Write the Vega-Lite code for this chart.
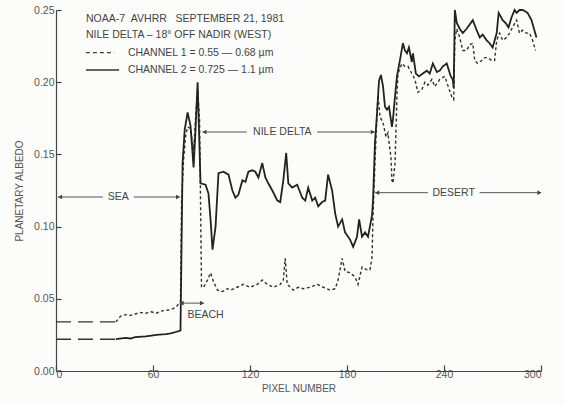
{
  "$schema": "https://vega.github.io/schema/vega-lite/v6.json",
  "width": 485,
  "height": 361,
  "autosize": {"type": "none"},
  "padding": {"left": 56, "top": 10, "right": 24, "bottom": 34},
  "background": "#fcfcfa",
  "config": {
    "font": "Liberation Sans",
    "view": {"stroke": null},
    "axis": {
      "domainColor": "#444",
      "tickColor": "#444",
      "labelColor": "#555",
      "titleColor": "#555",
      "labelFont": "Liberation Sans",
      "titleFont": "Liberation Sans",
      "labelFontSize": 10.5,
      "titleFontSize": 10,
      "titleFontWeight": "normal",
      "grid": false
    }
  },
  "datasets": {
    "albedo": [
      {"channel": "1", "part": "gap", "pixel": 0, "albedo": 0.034},
      {"channel": "1", "part": "gap", "pixel": 37, "albedo": 0.034},
      {"channel": "2", "part": "gap", "pixel": 0, "albedo": 0.022},
      {"channel": "2", "part": "gap", "pixel": 37, "albedo": 0.022},

      {"channel": "1", "part": "scan", "pixel": 37, "albedo": 0.034},
      {"channel": "1", "part": "scan", "pixel": 40, "albedo": 0.038},
      {"channel": "1", "part": "scan", "pixel": 43, "albedo": 0.039},
      {"channel": "1", "part": "scan", "pixel": 46, "albedo": 0.0385},
      {"channel": "1", "part": "scan", "pixel": 49, "albedo": 0.0395},
      {"channel": "1", "part": "scan", "pixel": 52, "albedo": 0.0405},
      {"channel": "1", "part": "scan", "pixel": 55.5, "albedo": 0.040},
      {"channel": "1", "part": "scan", "pixel": 59, "albedo": 0.041},
      {"channel": "1", "part": "scan", "pixel": 62, "albedo": 0.040},
      {"channel": "1", "part": "scan", "pixel": 65, "albedo": 0.0415},
      {"channel": "1", "part": "scan", "pixel": 68, "albedo": 0.042},
      {"channel": "1", "part": "scan", "pixel": 71, "albedo": 0.0425},
      {"channel": "1", "part": "scan", "pixel": 74, "albedo": 0.044},
      {"channel": "1", "part": "scan", "pixel": 77, "albedo": 0.048},
      {"channel": "1", "part": "scan", "pixel": 77.7, "albedo": 0.118},
      {"channel": "1", "part": "scan", "pixel": 78.9, "albedo": 0.146},
      {"channel": "1", "part": "scan", "pixel": 80.2, "albedo": 0.163},
      {"channel": "1", "part": "scan", "pixel": 81.4, "albedo": 0.169},
      {"channel": "1", "part": "scan", "pixel": 83.2, "albedo": 0.168},
      {"channel": "1", "part": "scan", "pixel": 85.1, "albedo": 0.153},
      {"channel": "1", "part": "scan", "pixel": 86.3, "albedo": 0.174},
      {"channel": "1", "part": "scan", "pixel": 87.6, "albedo": 0.195},
      {"channel": "1", "part": "scan", "pixel": 88.8, "albedo": 0.174},
      {"channel": "1", "part": "scan", "pixel": 89.4, "albedo": 0.118},
      {"channel": "1", "part": "scan", "pixel": 90, "albedo": 0.058},
      {"channel": "1", "part": "scan", "pixel": 91.3, "albedo": 0.058},
      {"channel": "1", "part": "scan", "pixel": 93.7, "albedo": 0.063},
      {"channel": "1", "part": "scan", "pixel": 95.6, "albedo": 0.068},
      {"channel": "1", "part": "scan", "pixel": 97.4, "albedo": 0.062},
      {"channel": "1", "part": "scan", "pixel": 99.9, "albedo": 0.056},
      {"channel": "1", "part": "scan", "pixel": 103, "albedo": 0.055},
      {"channel": "1", "part": "scan", "pixel": 106, "albedo": 0.057},
      {"channel": "1", "part": "scan", "pixel": 108, "albedo": 0.056},
      {"channel": "1", "part": "scan", "pixel": 112, "albedo": 0.058},
      {"channel": "1", "part": "scan", "pixel": 116, "albedo": 0.060},
      {"channel": "1", "part": "scan", "pixel": 120, "albedo": 0.058},
      {"channel": "1", "part": "scan", "pixel": 124.6, "albedo": 0.060},
      {"channel": "1", "part": "scan", "pixel": 127.6, "albedo": 0.063},
      {"channel": "1", "part": "scan", "pixel": 130.7, "albedo": 0.060},
      {"channel": "1", "part": "scan", "pixel": 134.4, "albedo": 0.058},
      {"channel": "1", "part": "scan", "pixel": 138.7, "albedo": 0.060},
      {"channel": "1", "part": "scan", "pixel": 140.6, "albedo": 0.063},
      {"channel": "1", "part": "scan", "pixel": 141.8, "albedo": 0.078},
      {"channel": "1", "part": "scan", "pixel": 143, "albedo": 0.060},
      {"channel": "1", "part": "scan", "pixel": 146.8, "albedo": 0.056},
      {"channel": "1", "part": "scan", "pixel": 149.8, "albedo": 0.058},
      {"channel": "1", "part": "scan", "pixel": 152.9, "albedo": 0.057},
      {"channel": "1", "part": "scan", "pixel": 157.2, "albedo": 0.058},
      {"channel": "1", "part": "scan", "pixel": 161.6, "albedo": 0.060},
      {"channel": "1", "part": "scan", "pixel": 165.3, "albedo": 0.058},
      {"channel": "1", "part": "scan", "pixel": 169.6, "albedo": 0.056},
      {"channel": "1", "part": "scan", "pixel": 172.7, "albedo": 0.057},
      {"channel": "1", "part": "scan", "pixel": 174.5, "albedo": 0.063},
      {"channel": "1", "part": "scan", "pixel": 177, "albedo": 0.078},
      {"channel": "1", "part": "scan", "pixel": 178.8, "albedo": 0.069},
      {"channel": "1", "part": "scan", "pixel": 181.9, "albedo": 0.068},
      {"channel": "1", "part": "scan", "pixel": 185, "albedo": 0.065},
      {"channel": "1", "part": "scan", "pixel": 186.8, "albedo": 0.060},
      {"channel": "1", "part": "scan", "pixel": 189.3, "albedo": 0.072},
      {"channel": "1", "part": "scan", "pixel": 192.4, "albedo": 0.070},
      {"channel": "1", "part": "scan", "pixel": 194.2, "albedo": 0.070},
      {"channel": "1", "part": "scan", "pixel": 195.5, "albedo": 0.079},
      {"channel": "1", "part": "scan", "pixel": 196.1, "albedo": 0.107},
      {"channel": "1", "part": "scan", "pixel": 197.3, "albedo": 0.144},
      {"channel": "1", "part": "scan", "pixel": 198.6, "albedo": 0.179},
      {"channel": "1", "part": "scan", "pixel": 199.2, "albedo": 0.191},
      {"channel": "1", "part": "scan", "pixel": 200.4, "albedo": 0.176},
      {"channel": "1", "part": "scan", "pixel": 202.3, "albedo": 0.172},
      {"channel": "1", "part": "scan", "pixel": 204.1, "albedo": 0.162},
      {"channel": "1", "part": "scan", "pixel": 205.3, "albedo": 0.165},
      {"channel": "1", "part": "scan", "pixel": 207.2, "albedo": 0.148},
      {"channel": "1", "part": "scan", "pixel": 207.8, "albedo": 0.132},
      {"channel": "1", "part": "scan", "pixel": 208.4, "albedo": 0.130},
      {"channel": "1", "part": "scan", "pixel": 209.7, "albedo": 0.144},
      {"channel": "1", "part": "scan", "pixel": 210.9, "albedo": 0.190},
      {"channel": "1", "part": "scan", "pixel": 211.5, "albedo": 0.206},
      {"channel": "1", "part": "scan", "pixel": 214, "albedo": 0.213},
      {"channel": "1", "part": "scan", "pixel": 215.8, "albedo": 0.211},
      {"channel": "1", "part": "scan", "pixel": 217.7, "albedo": 0.211},
      {"channel": "1", "part": "scan", "pixel": 220.1, "albedo": 0.206},
      {"channel": "1", "part": "scan", "pixel": 222, "albedo": 0.202},
      {"channel": "1", "part": "scan", "pixel": 223.8, "albedo": 0.193},
      {"channel": "1", "part": "scan", "pixel": 226.3, "albedo": 0.195},
      {"channel": "1", "part": "scan", "pixel": 228.2, "albedo": 0.200},
      {"channel": "1", "part": "scan", "pixel": 230, "albedo": 0.198},
      {"channel": "1", "part": "scan", "pixel": 232.5, "albedo": 0.202},
      {"channel": "1", "part": "scan", "pixel": 234.3, "albedo": 0.197},
      {"channel": "1", "part": "scan", "pixel": 237.4, "albedo": 0.202},
      {"channel": "1", "part": "scan", "pixel": 240.5, "albedo": 0.204},
      {"channel": "1", "part": "scan", "pixel": 242.3, "albedo": 0.198},
      {"channel": "1", "part": "scan", "pixel": 244.8, "albedo": 0.190},
      {"channel": "1", "part": "scan", "pixel": 246, "albedo": 0.188},
      {"channel": "1", "part": "scan", "pixel": 246.7, "albedo": 0.229},
      {"channel": "1", "part": "scan", "pixel": 247.9, "albedo": 0.237},
      {"channel": "1", "part": "scan", "pixel": 249.7, "albedo": 0.231},
      {"channel": "1", "part": "scan", "pixel": 251.6, "albedo": 0.222},
      {"channel": "1", "part": "scan", "pixel": 254, "albedo": 0.222},
      {"channel": "1", "part": "scan", "pixel": 255.9, "albedo": 0.226},
      {"channel": "1", "part": "scan", "pixel": 257.8, "albedo": 0.227},
      {"channel": "1", "part": "scan", "pixel": 259, "albedo": 0.215},
      {"channel": "1", "part": "scan", "pixel": 260.8, "albedo": 0.213},
      {"channel": "1", "part": "scan", "pixel": 263.3, "albedo": 0.215},
      {"channel": "1", "part": "scan", "pixel": 265.2, "albedo": 0.217},
      {"channel": "1", "part": "scan", "pixel": 267, "albedo": 0.217},
      {"channel": "1", "part": "scan", "pixel": 269.5, "albedo": 0.215},
      {"channel": "1", "part": "scan", "pixel": 271.3, "albedo": 0.215},
      {"channel": "1", "part": "scan", "pixel": 272.6, "albedo": 0.229},
      {"channel": "1", "part": "scan", "pixel": 274.4, "albedo": 0.234},
      {"channel": "1", "part": "scan", "pixel": 276.3, "albedo": 0.229},
      {"channel": "1", "part": "scan", "pixel": 278.7, "albedo": 0.231},
      {"channel": "1", "part": "scan", "pixel": 280.6, "albedo": 0.234},
      {"channel": "1", "part": "scan", "pixel": 282.4, "albedo": 0.238},
      {"channel": "1", "part": "scan", "pixel": 284.9, "albedo": 0.243},
      {"channel": "1", "part": "scan", "pixel": 286.7, "albedo": 0.234},
      {"channel": "1", "part": "scan", "pixel": 288.6, "albedo": 0.236},
      {"channel": "1", "part": "scan", "pixel": 291, "albedo": 0.234},
      {"channel": "1", "part": "scan", "pixel": 292.9, "albedo": 0.234},
      {"channel": "1", "part": "scan", "pixel": 294.8, "albedo": 0.229},
      {"channel": "1", "part": "scan", "pixel": 296.6, "albedo": 0.222},

      {"channel": "2", "part": "scan", "pixel": 37, "albedo": 0.022},
      {"channel": "2", "part": "scan", "pixel": 43, "albedo": 0.023},
      {"channel": "2", "part": "scan", "pixel": 46, "albedo": 0.0225},
      {"channel": "2", "part": "scan", "pixel": 49, "albedo": 0.0235},
      {"channel": "2", "part": "scan", "pixel": 55.5, "albedo": 0.024},
      {"channel": "2", "part": "scan", "pixel": 59, "albedo": 0.0245},
      {"channel": "2", "part": "scan", "pixel": 62, "albedo": 0.025},
      {"channel": "2", "part": "scan", "pixel": 68, "albedo": 0.0256},
      {"channel": "2", "part": "scan", "pixel": 71, "albedo": 0.026},
      {"channel": "2", "part": "scan", "pixel": 74, "albedo": 0.027},
      {"channel": "2", "part": "scan", "pixel": 77, "albedo": 0.028},
      {"channel": "2", "part": "scan", "pixel": 78.3, "albedo": 0.144},
      {"channel": "2", "part": "scan", "pixel": 79.6, "albedo": 0.167},
      {"channel": "2", "part": "scan", "pixel": 81.4, "albedo": 0.179},
      {"channel": "2", "part": "scan", "pixel": 83.2, "albedo": 0.170},
      {"channel": "2", "part": "scan", "pixel": 85.1, "albedo": 0.141},
      {"channel": "2", "part": "scan", "pixel": 86.3, "albedo": 0.167},
      {"channel": "2", "part": "scan", "pixel": 87.6, "albedo": 0.200},
      {"channel": "2", "part": "scan", "pixel": 89.4, "albedo": 0.130},
      {"channel": "2", "part": "scan", "pixel": 92.5, "albedo": 0.129},
      {"channel": "2", "part": "scan", "pixel": 94.3, "albedo": 0.123},
      {"channel": "2", "part": "scan", "pixel": 95.6, "albedo": 0.105},
      {"channel": "2", "part": "scan", "pixel": 96.8, "albedo": 0.084},
      {"channel": "2", "part": "scan", "pixel": 98.7, "albedo": 0.100},
      {"channel": "2", "part": "scan", "pixel": 100.5, "albedo": 0.137},
      {"channel": "2", "part": "scan", "pixel": 103.6, "albedo": 0.138},
      {"channel": "2", "part": "scan", "pixel": 106.7, "albedo": 0.136},
      {"channel": "2", "part": "scan", "pixel": 109.1, "albedo": 0.125},
      {"channel": "2", "part": "scan", "pixel": 111, "albedo": 0.120},
      {"channel": "2", "part": "scan", "pixel": 112.8, "albedo": 0.122},
      {"channel": "2", "part": "scan", "pixel": 115.3, "albedo": 0.132},
      {"channel": "2", "part": "scan", "pixel": 117.2, "albedo": 0.131},
      {"channel": "2", "part": "scan", "pixel": 119, "albedo": 0.138},
      {"channel": "2", "part": "scan", "pixel": 121.5, "albedo": 0.139},
      {"channel": "2", "part": "scan", "pixel": 123.3, "albedo": 0.138},
      {"channel": "2", "part": "scan", "pixel": 125.2, "albedo": 0.134},
      {"channel": "2", "part": "scan", "pixel": 127.6, "albedo": 0.144},
      {"channel": "2", "part": "scan", "pixel": 129.5, "albedo": 0.134},
      {"channel": "2", "part": "scan", "pixel": 131.3, "albedo": 0.130},
      {"channel": "2", "part": "scan", "pixel": 133.8, "albedo": 0.125},
      {"channel": "2", "part": "scan", "pixel": 136.9, "albedo": 0.118},
      {"channel": "2", "part": "scan", "pixel": 138.7, "albedo": 0.117},
      {"channel": "2", "part": "scan", "pixel": 140.6, "albedo": 0.132},
      {"channel": "2", "part": "scan", "pixel": 142.4, "albedo": 0.151},
      {"channel": "2", "part": "scan", "pixel": 143.7, "albedo": 0.130},
      {"channel": "2", "part": "scan", "pixel": 146.1, "albedo": 0.127},
      {"channel": "2", "part": "scan", "pixel": 149.2, "albedo": 0.129},
      {"channel": "2", "part": "scan", "pixel": 152.3, "albedo": 0.120},
      {"channel": "2", "part": "scan", "pixel": 154.2, "albedo": 0.118},
      {"channel": "2", "part": "scan", "pixel": 156, "albedo": 0.127},
      {"channel": "2", "part": "scan", "pixel": 158.5, "albedo": 0.118},
      {"channel": "2", "part": "scan", "pixel": 160.3, "albedo": 0.120},
      {"channel": "2", "part": "scan", "pixel": 162.2, "albedo": 0.114},
      {"channel": "2", "part": "scan", "pixel": 164.6, "albedo": 0.117},
      {"channel": "2", "part": "scan", "pixel": 166.5, "albedo": 0.118},
      {"channel": "2", "part": "scan", "pixel": 168.3, "albedo": 0.136},
      {"channel": "2", "part": "scan", "pixel": 170.8, "albedo": 0.125},
      {"channel": "2", "part": "scan", "pixel": 172.7, "albedo": 0.109},
      {"channel": "2", "part": "scan", "pixel": 174.5, "albedo": 0.100},
      {"channel": "2", "part": "scan", "pixel": 177, "albedo": 0.105},
      {"channel": "2", "part": "scan", "pixel": 178.8, "albedo": 0.096},
      {"channel": "2", "part": "scan", "pixel": 181.9, "albedo": 0.091},
      {"channel": "2", "part": "scan", "pixel": 183.8, "albedo": 0.086},
      {"channel": "2", "part": "scan", "pixel": 186.2, "albedo": 0.093},
      {"channel": "2", "part": "scan", "pixel": 187.5, "albedo": 0.105},
      {"channel": "2", "part": "scan", "pixel": 189.3, "albedo": 0.093},
      {"channel": "2", "part": "scan", "pixel": 191.2, "albedo": 0.096},
      {"channel": "2", "part": "scan", "pixel": 193, "albedo": 0.093},
      {"channel": "2", "part": "scan", "pixel": 195.5, "albedo": 0.108},
      {"channel": "2", "part": "scan", "pixel": 196.1, "albedo": 0.118},
      {"channel": "2", "part": "scan", "pixel": 197.3, "albedo": 0.158},
      {"channel": "2", "part": "scan", "pixel": 198.6, "albedo": 0.179},
      {"channel": "2", "part": "scan", "pixel": 199.8, "albedo": 0.201},
      {"channel": "2", "part": "scan", "pixel": 201, "albedo": 0.205},
      {"channel": "2", "part": "scan", "pixel": 202.3, "albedo": 0.197},
      {"channel": "2", "part": "scan", "pixel": 203.5, "albedo": 0.183},
      {"channel": "2", "part": "scan", "pixel": 204.7, "albedo": 0.181},
      {"channel": "2", "part": "scan", "pixel": 206, "albedo": 0.183},
      {"channel": "2", "part": "scan", "pixel": 207.8, "albedo": 0.169},
      {"channel": "2", "part": "scan", "pixel": 208.4, "albedo": 0.174},
      {"channel": "2", "part": "scan", "pixel": 209.7, "albedo": 0.190},
      {"channel": "2", "part": "scan", "pixel": 210.9, "albedo": 0.204},
      {"channel": "2", "part": "scan", "pixel": 212.7, "albedo": 0.215},
      {"channel": "2", "part": "scan", "pixel": 214.6, "albedo": 0.227},
      {"channel": "2", "part": "scan", "pixel": 215.8, "albedo": 0.222},
      {"channel": "2", "part": "scan", "pixel": 217.1, "albedo": 0.220},
      {"channel": "2", "part": "scan", "pixel": 218.3, "albedo": 0.224},
      {"channel": "2", "part": "scan", "pixel": 220.1, "albedo": 0.214},
      {"channel": "2", "part": "scan", "pixel": 220.8, "albedo": 0.220},
      {"channel": "2", "part": "scan", "pixel": 222.6, "albedo": 0.206},
      {"channel": "2", "part": "scan", "pixel": 224.5, "albedo": 0.204},
      {"channel": "2", "part": "scan", "pixel": 226.9, "albedo": 0.206},
      {"channel": "2", "part": "scan", "pixel": 229.4, "albedo": 0.208},
      {"channel": "2", "part": "scan", "pixel": 231.2, "albedo": 0.206},
      {"channel": "2", "part": "scan", "pixel": 233.1, "albedo": 0.213},
      {"channel": "2", "part": "scan", "pixel": 235.6, "albedo": 0.207},
      {"channel": "2", "part": "scan", "pixel": 237.4, "albedo": 0.208},
      {"channel": "2", "part": "scan", "pixel": 239.3, "albedo": 0.211},
      {"channel": "2", "part": "scan", "pixel": 241.7, "albedo": 0.213},
      {"channel": "2", "part": "scan", "pixel": 244.2, "albedo": 0.204},
      {"channel": "2", "part": "scan", "pixel": 245.4, "albedo": 0.202},
      {"channel": "2", "part": "scan", "pixel": 246, "albedo": 0.196},
      {"channel": "2", "part": "scan", "pixel": 246.7, "albedo": 0.250},
      {"channel": "2", "part": "scan", "pixel": 247.9, "albedo": 0.241},
      {"channel": "2", "part": "scan", "pixel": 249.7, "albedo": 0.237},
      {"channel": "2", "part": "scan", "pixel": 251.6, "albedo": 0.234},
      {"channel": "2", "part": "scan", "pixel": 254, "albedo": 0.237},
      {"channel": "2", "part": "scan", "pixel": 255.9, "albedo": 0.240},
      {"channel": "2", "part": "scan", "pixel": 257.8, "albedo": 0.243},
      {"channel": "2", "part": "scan", "pixel": 260.2, "albedo": 0.236},
      {"channel": "2", "part": "scan", "pixel": 262.1, "albedo": 0.231},
      {"channel": "2", "part": "scan", "pixel": 263.9, "albedo": 0.233},
      {"channel": "2", "part": "scan", "pixel": 266.4, "albedo": 0.229},
      {"channel": "2", "part": "scan", "pixel": 268.2, "albedo": 0.227},
      {"channel": "2", "part": "scan", "pixel": 270.1, "albedo": 0.224},
      {"channel": "2", "part": "scan", "pixel": 272.6, "albedo": 0.234},
      {"channel": "2", "part": "scan", "pixel": 273.8, "albedo": 0.248},
      {"channel": "2", "part": "scan", "pixel": 276.3, "albedo": 0.243},
      {"channel": "2", "part": "scan", "pixel": 278.1, "albedo": 0.241},
      {"channel": "2", "part": "scan", "pixel": 279.9, "albedo": 0.238},
      {"channel": "2", "part": "scan", "pixel": 281.8, "albedo": 0.245},
      {"channel": "2", "part": "scan", "pixel": 283.7, "albedo": 0.250},
      {"channel": "2", "part": "scan", "pixel": 284.9, "albedo": 0.248},
      {"channel": "2", "part": "scan", "pixel": 286.7, "albedo": 0.250},
      {"channel": "2", "part": "scan", "pixel": 288.6, "albedo": 0.250},
      {"channel": "2", "part": "scan", "pixel": 290.4, "albedo": 0.249},
      {"channel": "2", "part": "scan", "pixel": 291.7, "albedo": 0.248},
      {"channel": "2", "part": "scan", "pixel": 294.1, "albedo": 0.243},
      {"channel": "2", "part": "scan", "pixel": 295.4, "albedo": 0.238},
      {"channel": "2", "part": "scan", "pixel": 297.2, "albedo": 0.231}
    ],
    "key": [
      {"channel": "1", "pixel": 18.5, "albedo": 0.2205},
      {"channel": "1", "pixel": 36, "albedo": 0.2205},
      {"channel": "2", "pixel": 18.5, "albedo": 0.2085},
      {"channel": "2", "pixel": 39, "albedo": 0.2085}
    ],
    "notes": [
      {"text": "NOAA-7\u00a0\u00a0AVHRR\u00a0\u00a0\u00a0SEPTEMBER 21, 1981", "pixel": 18.5, "albedo": 0.2435, "align": "left"},
      {"text": "NILE DELTA – 18° OFF NADIR (WEST)", "pixel": 18.5, "albedo": 0.2325, "align": "left"},
      {"text": "CHANNEL 1 = 0.55 — 0.68 µm", "pixel": 44.5, "albedo": 0.2205, "align": "left"},
      {"text": "CHANNEL 2 = 0.725 — 1.1 µm", "pixel": 44.5, "albedo": 0.2085, "align": "left"},
      {"text": "SEA", "pixel": 38.5, "albedo": 0.1205, "align": "center"},
      {"text": "NILE DELTA", "pixel": 140, "albedo": 0.1655, "align": "center"},
      {"text": "DESERT", "pixel": 246, "albedo": 0.1235, "align": "center"},
      {"text": "BEACH", "pixel": 92.5, "albedo": 0.0385, "align": "center"}
    ],
    "spans": [
      {"region": "sea", "from": 1.2, "to": 29, "albedo": 0.1205},
      {"region": "sea", "from": 48, "to": 76.5, "albedo": 0.1205},
      {"region": "delta", "from": 90.6, "to": 118, "albedo": 0.1655},
      {"region": "delta", "from": 161.5, "to": 197, "albedo": 0.1655},
      {"region": "desert", "from": 197.5, "to": 230, "albedo": 0.1235},
      {"region": "desert", "from": 262, "to": 300, "albedo": 0.1235},
      {"region": "beach", "from": 76.5, "to": 91.5, "albedo": 0.047}
    ],
    "ends": [
      {"region": "sea", "pixel": 2.5, "albedo": 0.1205, "dir": "left"},
      {"region": "sea", "pixel": 75.5, "albedo": 0.1205, "dir": "right"},
      {"region": "delta", "pixel": 91.8, "albedo": 0.1655, "dir": "left"},
      {"region": "delta", "pixel": 196, "albedo": 0.1655, "dir": "right"},
      {"region": "desert", "pixel": 198.7, "albedo": 0.1235, "dir": "left"},
      {"region": "desert", "pixel": 299, "albedo": 0.1235, "dir": "right"},
      {"region": "beach", "pixel": 77.7, "albedo": 0.047, "dir": "left"},
      {"region": "beach", "pixel": 90.3, "albedo": 0.047, "dir": "right"}
    ]
  },
  "encoding": {
    "x": {
      "field": "pixel",
      "type": "quantitative",
      "scale": {"domain": [0, 300], "nice": false, "zero": false},
      "axis": {
        "title": "PIXEL NUMBER",
        "values": [0, 60, 120, 180, 240, 300],
        "tickSize": -6,
        "labelPadding": 4,
        "titlePadding": 4,
        "domainWidth": 1.2,
        "tickWidth": 1.2
      }
    },
    "y": {
      "field": "albedo",
      "type": "quantitative",
      "scale": {"domain": [0, 0.25], "nice": false},
      "axis": {
        "title": "PLANETARY ALBEDO",
        "values": [0, 0.05, 0.1, 0.15, 0.2, 0.25],
        "format": ".2f",
        "tickSize": -5,
        "labelPadding": 7,
        "titlePadding": 9,
        "domainWidth": 1.2,
        "tickWidth": 1.2
      }
    }
  },
  "layer": [
    {
      "data": {"name": "albedo"},
      "transform": [{"filter": "datum.part === 'gap'"}],
      "mark": {"type": "line", "color": "#333", "strokeWidth": 1.4, "strokeDash": [15, 7]},
      "encoding": {"detail": {"field": "channel"}}
    },
    {
      "data": {"name": "albedo"},
      "transform": [{"filter": "datum.part === 'scan' && datum.channel === '1'"}],
      "mark": {"type": "line", "color": "#333", "strokeWidth": 1.4, "strokeDash": [3, 2.5]}
    },
    {
      "data": {"name": "albedo"},
      "transform": [{"filter": "datum.part === 'scan' && datum.channel === '2'"}],
      "mark": {"type": "line", "color": "#222", "strokeWidth": 1.8}
    },
    {
      "data": {"name": "key"},
      "transform": [{"filter": "datum.channel === '1'"}],
      "mark": {"type": "line", "color": "#444", "strokeWidth": 1.2, "strokeDash": [4, 3]}
    },
    {
      "data": {"name": "key"},
      "transform": [{"filter": "datum.channel === '2'"}],
      "mark": {"type": "line", "color": "#333", "strokeWidth": 1.5}
    },
    {
      "data": {"name": "spans"},
      "mark": {"type": "rule", "color": "#555", "strokeWidth": 1},
      "encoding": {
        "x": {"field": "from", "type": "quantitative"},
        "x2": {"field": "to"},
        "y": {"field": "albedo", "type": "quantitative"}
      }
    },
    {
      "data": {"name": "ends"},
      "transform": [{"filter": "datum.dir === 'left'"}],
      "mark": {"type": "point", "shape": "triangle-left", "filled": true, "color": "#444", "size": 22, "opacity": 1}
    },
    {
      "data": {"name": "ends"},
      "transform": [{"filter": "datum.dir === 'right'"}],
      "mark": {"type": "point", "shape": "triangle-right", "filled": true, "color": "#444", "size": 22, "opacity": 1}
    },
    {
      "data": {"name": "notes"},
      "transform": [{"filter": "datum.align === 'left'"}],
      "mark": {"type": "text", "align": "left", "baseline": "middle", "fontSize": 10.5, "color": "#444", "font": "Liberation Sans"},
      "encoding": {"text": {"field": "text"}}
    },
    {
      "data": {"name": "notes"},
      "transform": [{"filter": "datum.align === 'center'"}],
      "mark": {"type": "text", "align": "center", "baseline": "middle", "fontSize": 10.5, "color": "#444", "font": "Liberation Sans"},
      "encoding": {"text": {"field": "text"}}
    }
  ]
}
